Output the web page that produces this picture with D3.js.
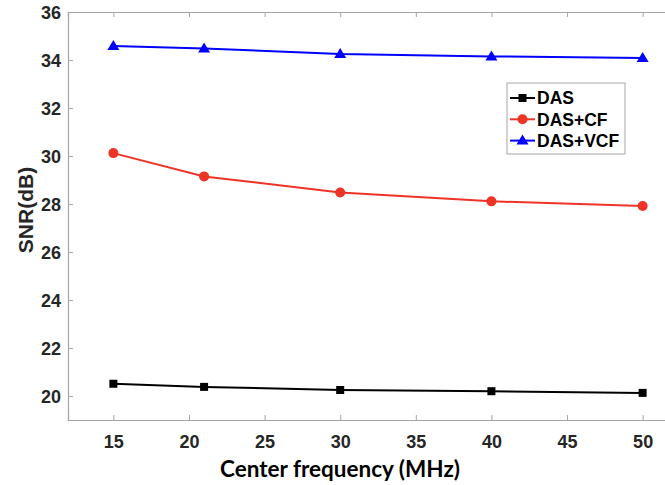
<!DOCTYPE html>
<html>
<head>
<meta charset="utf-8">
<script src="https://d3js.org/d3.v7.min.js"></script>
<style>
  body { margin: 0; background: #fff; }
  .tick text { font-family: "Liberation Sans", Arial, sans-serif; font-weight: bold; font-size: 18px; fill: #262626; }
</style>
</head>
<body>
<div id="chart"></div>
<script>
// data
var freqs = [15, 21, 30, 40, 50];
var das = [20.51, 20.38, 20.25, 20.20, 20.13];
var dasCF = [30.12, 29.15, 28.48, 28.11, 27.92];
var dasVCF = [34.58, 34.48, 34.25, 34.15, 34.08];
var seriesNames = ["DAS", "DAS+CF", "DAS+VCF"];
var xTicks = [15, 20, 25, 30, 35, 40, 45, 50];
var yTicks = [20, 22, 24, 26, 28, 30, 32, 34, 36];

var W = 665, H = 485;
var mLeft = 68, mTop = 12, mRight = 688, mBottom = 420;

var svg = d3.select("#chart").append("svg")
    .attr("width", W).attr("height", H);

var x = d3.scaleLinear().domain([12, 53]).range([mLeft, mRight]);
var y = d3.scaleLinear().domain([19, 36]).range([mBottom, mTop]);

var axisColor = "#a6a6a6";

// x axis (bottom) with inward ticks
var gx = svg.append("g").attr("transform", "translate(0," + mBottom + ")")
    .call(d3.axisBottom(x).tickValues(xTicks).tickSize(-5).tickPadding(12));
// top axis, ticks only
var gt = svg.append("g").attr("transform", "translate(0," + mTop + ")")
    .call(d3.axisTop(x).tickValues(xTicks).tickSize(-5).tickFormat(""));
var gy = svg.append("g").attr("transform", "translate(" + mLeft + ",0)")
    .call(d3.axisLeft(y).tickValues(yTicks).tickSize(-5).tickPadding(7));

[gx, gt, gy].forEach(function (g) {
  g.select(".domain").attr("stroke", axisColor).attr("stroke-width", 1.2);
  g.selectAll(".tick line").attr("stroke", axisColor);
});
gx.selectAll(".tick text").attr("dy", "0.9em");
gy.selectAll(".tick text").attr("dy", "0.36em");

var series = [
  {name: seriesNames[0], values: das, color: "#000000", marker: "square"},
  {name: seriesNames[1], values: dasCF, color: "#ee3327", marker: "circle"},
  {name: seriesNames[2], values: dasVCF, color: "#0000ff", marker: "triangle"}
];

var line = d3.line()
    .x(function (d) { return x(d.f); })
    .y(function (d) { return y(d.v); });

function drawMarker(g, type, color, cx, cy) {
  if (type === "square") {
    g.append("rect").attr("x", cx - 4).attr("y", cy - 4)
      .attr("width", 8).attr("height", 8).attr("fill", color);
  } else if (type === "circle") {
    g.append("circle").attr("cx", cx).attr("cy", cy).attr("r", 5).attr("fill", color);
  } else {
    g.append("path")
      .attr("d", "M" + cx + "," + (cy - 6) + "L" + (cx + 6) + "," + (cy + 4) + "L" + (cx - 6) + "," + (cy + 4) + "Z")
      .attr("fill", color);
  }
}

series.forEach(function (s) {
  var pts = freqs.map(function (f, i) { return {f: f, v: s.values[i]}; });
  var g = svg.append("g");
  g.append("path").datum(pts).attr("d", line)
    .attr("fill", "none").attr("stroke", s.color).attr("stroke-width", 2);
  pts.forEach(function (p) { drawMarker(g, s.marker, s.color, x(p.f), y(p.v)); });
});

// legend
var lg = svg.append("g");
lg.append("rect").attr("x", 507).attr("y", 83).attr("width", 118).attr("height", 71)
  .attr("fill", "#fff").attr("stroke", axisColor).attr("stroke-width", 1);
series.forEach(function (s, i) {
  var ly = 98 + i * 21.3;
  lg.append("line").attr("x1", 510).attr("x2", 535).attr("y1", ly).attr("y2", ly)
    .attr("stroke", s.color).attr("stroke-width", 2);
  drawMarker(lg, s.marker, s.color, 522.5, ly);
  lg.append("text").attr("x", 537).attr("y", ly).attr("dy", "0.36em")
    .style("font-family", "Liberation Sans, Arial, sans-serif")
    .style("font-weight", "bold").style("font-size", "17.5px")
    .text(s.name);
});

// axis titles
svg.append("text")
  .attr("transform", "translate(33,210) rotate(-90)")
  .attr("text-anchor", "middle")
  .style("font-family", "Liberation Sans, Arial, sans-serif")
  .style("font-weight", "bold").style("font-size", "21px").style("fill", "#262626")
  .text("SNR(dB)");

svg.append("text")
  .attr("x", 340).attr("y", 477)
  .attr("text-anchor", "middle")
  .style("font-family", "Lato, sans-serif")
  .style("font-weight", "bold").style("font-size", "22.5px")
  .text("Center frequency (MHz)");
</script>
</body>
</html>
